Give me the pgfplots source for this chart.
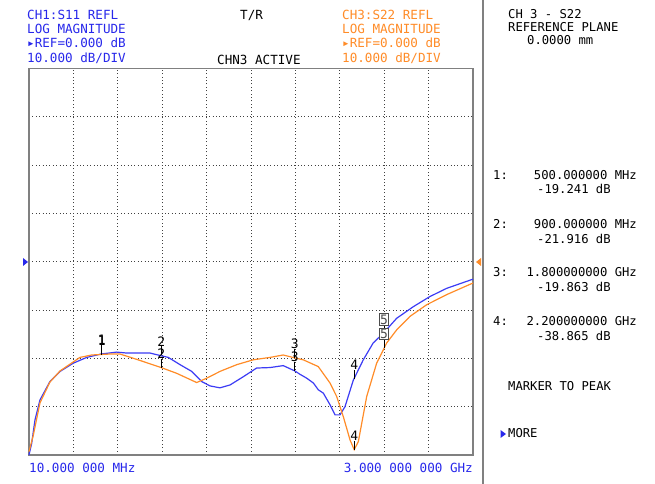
\documentclass[border=0pt]{standalone}
\usepackage{pgfplots}
\pgfplotsset{compat=1.18}
\usepackage{fontspec}
\newfontfamily\crt{DejaVu Sans Mono}
\definecolor{vnablue}{RGB}{40,40,235}
\definecolor{trblue}{RGB}{60,60,245}
\definecolor{vnaor}{RGB}{255,140,40}
\definecolor{fr}{RGB}{128,128,128}
\pgfdeclareplotmark{mtick}{\pgfpathmoveto{\pgfqpoint{0pt}{0pt}}\pgfpathlineto{\pgfqpoint{0pt}{9bp}}\pgfusepathqstroke}
\newcommand{\hf}{\crt\fontsize{12.6bp}{14bp}\selectfont}
\newcommand{\rf}{\crt\fontsize{12.2bp}{14bp}\selectfont}
\newcommand{\mf}{\crt\fontsize{13bp}{14bp}\selectfont}
\begin{document}
\begin{tikzpicture}[x=1bp,y=1bp]
\path[use as bounding box, fill=white] (0,0) rectangle (655,484);
% separator
\draw[fr, line width=1.8bp] (483,0) -- (483,484);
\begin{axis}[at={(29bp,29bp)}, anchor=south west, scale only axis,
  width=444bp, height=386.5bp,
  xmin=10, xmax=3000, ymin=-40, ymax=40,
  xtick={10,309,608,907,1206,1505,1804,2103,2402,2701,3000},
  ytick={-40,-30,-20,-10,0,10,20,30,40},
  xticklabels={}, yticklabels={}, major tick length=0pt,
  grid=major, grid style={dash pattern=on 1bp off 2.4bp, black!75, line width=0.8bp},
  axis line style={draw=fr, line width=1.6bp},
  clip=false]
% S11 (blue)
\addplot[trblue, line width=1.2bp] coordinates {
(10,-40.0) (28,-37.6) (50,-32.8) (84,-28.6) (151,-24.8) (219,-22.7) (308,-21.0)
(399,-19.8) (495,-19.1) (601,-18.7) (668,-18.9) (825,-18.9) (892,-19.4) (948,-19.8)
(1027,-21.3) (1106,-22.7) (1173,-24.8) (1229,-25.7) (1296,-26.1) (1364,-25.5)
(1453,-23.8) (1543,-22.0) (1633,-21.9) (1722,-21.5) (1800,-22.6) (1835,-23.3)
(1880,-24.1) (1925,-25.1) (1958,-26.5) (1992,-27.2) (2037,-29.6) (2071,-31.7)
(2104,-31.7) (2138,-30.0) (2194,-24.5) (2261,-20.3) (2328,-16.8) (2396,-14.8)
(2486,-11.7) (2598,-9.3) (2710,-7.2) (2823,-5.5) (3000,-3.6)};
% S22 (orange)
\addplot[vnaor, line width=1.2bp] coordinates {
(10,-39.3) (39,-35.9) (84,-29.2) (151,-24.9) (219,-22.6) (353,-19.8) (432,-19.3)
(555,-19.1) (623,-19.1) (735,-20.2) (900,-21.9) (1005,-23.1) (1139,-25.0)
(1207,-24.1) (1296,-22.7) (1409,-21.3) (1520,-20.3) (1633,-19.8) (1722,-19.3)
(1800,-19.9) (1857,-20.3) (1958,-21.7) (2037,-25.1) (2082,-27.9) (2127,-32.1)
(2172,-36.9) (2200,-38.9) (2228,-37.2) (2284,-27.9) (2351,-21.0) (2419,-16.8)
(2486,-14.1) (2576,-11.3) (2688,-8.9) (2823,-6.8) (3000,-4.4)};
% markers
\addplot[black, line width=0.7bp, only marks, mark=mtick,
  point meta=explicit symbolic, nodes near coords,
  every node near coord/.append style={anchor=south, yshift=9bp, inner sep=0bp,
  font=\mf, text=black}]
  table[meta=l] {
x y l
500 -19.1 1
900 -19.4 2
1800 -22.6 3
2200 -24.2 4
500 -19.241 1
900 -21.916 2
1800 -19.863 3
2200 -38.865 4
};
\addplot[black, line width=0.7bp, only marks, mark=mtick,
  point meta=explicit symbolic, nodes near coords,
  every node near coord/.append style={anchor=south, yshift=8bp, inner sep=1bp,
  draw=black!70, line width=0.9bp, fill=white,
  font=\mf, text=black!70}]
  table[meta=l] {
x y l
2400 -14.9 5
2400 -17.9 5
};
\end{axis}
% reference arrows
\fill[vnablue] (23,226) -- (28,222) -- (23,218) -- cycle;
\fill[vnaor] (481,226) -- (476,222) -- (481,218) -- cycle;
% header texts
\begin{scope}[every node/.style={inner sep=0pt, anchor=base west}]
\node[text=vnablue] at (27,464.5) {\hf CH1:S11 REFL};
\node[text=vnablue] at (27,450.5) {\hf LOG MAGNITUDE};
\node[text=vnablue] at (27,436) {\hf ▸REF=0.000 dB};
\node[text=vnablue] at (27,421.5) {\hf 10.000 dB/DIV};
\node[text=black] at (240,464.5) {\hf T/R};
\node[text=black] at (217,419) {\hf CHN3 ACTIVE};
\node[text=vnaor] at (342,464.5) {\hf CH3:S22 REFL};
\node[text=vnaor] at (342,450.5) {\hf LOG MAGNITUDE};
\node[text=vnaor] at (342,436) {\hf ▸REF=0.000 dB};
\node[text=vnaor] at (342,421.5) {\hf 10.000 dB/DIV};
\node[text=vnablue] at (29,11) {\hf 10.000 000 MHz};
\node[text=vnablue, anchor=base east] at (473,11) {\hf 3.000 000 000 GHz};
% right panel
\node at (508,465.7) {\rf CH 3 - S22};
\node at (508,452.3) {\rf REFERENCE PLANE};
\node at (527,439) {\rf 0.0000 mm};
\node at (493,304) {\rf 1:};
\node[anchor=base east] at (637,304) {\rf 500.000000 MHz};
\node at (537,290) {\rf -19.241 dB};
\node at (493,255) {\rf 2:};
\node[anchor=base east] at (637,255) {\rf 900.000000 MHz};
\node at (537,240.5) {\rf -21.916 dB};
\node at (493,207) {\rf 3:};
\node[anchor=base east] at (637,207) {\rf 1.800000000 GHz};
\node at (537,192.5) {\rf -19.863 dB};
\node at (493,158) {\rf 4:};
\node[anchor=base east] at (637,158) {\rf 2.200000000 GHz};
\node at (537,143.5) {\rf -38.865 dB};
\node at (508,93.3) {\rf MARKER TO PEAK};
\node at (508,46) {\rf MORE};
\end{scope}
\fill[vnablue] (500.5,54) -- (506,50) -- (500.5,46) -- cycle;
\end{tikzpicture}
\end{document}
